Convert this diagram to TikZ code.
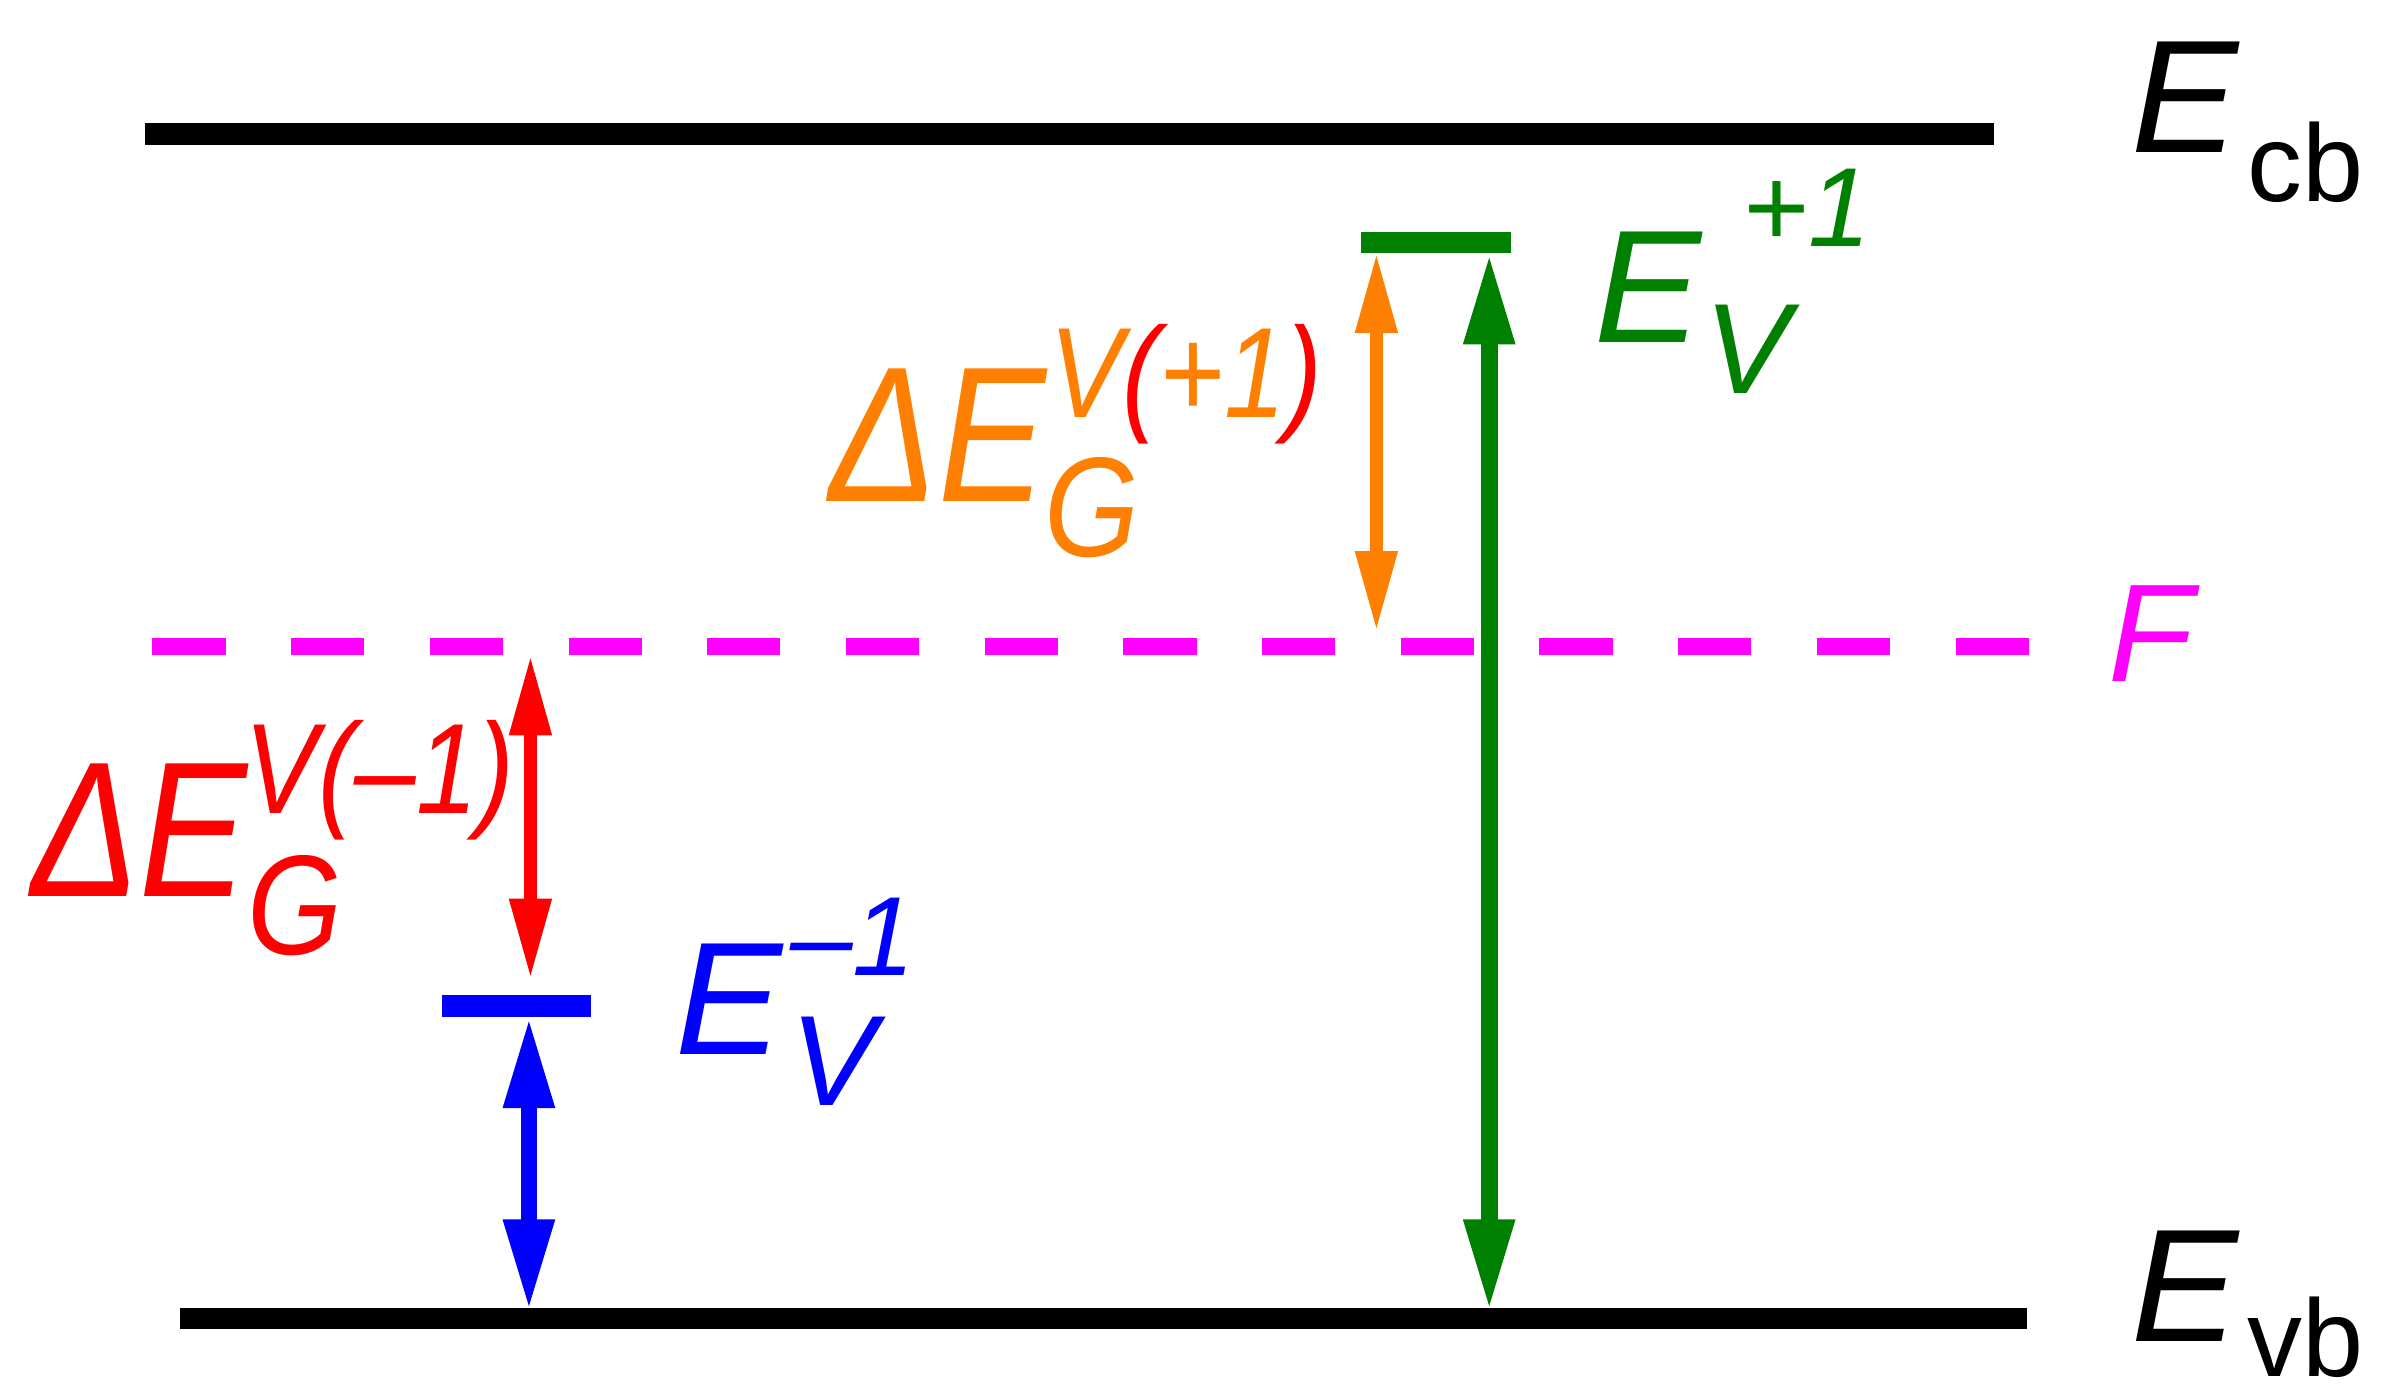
\documentclass[tikz,border=0pt]{standalone}
\usepackage{fontspec}
\setmainfont{Liberation Sans}
\newfontfamily\narrowf[FakeStretch=0.84]{Liberation Sans}
\newfontfamily\narrows[FakeStretch=0.86]{Liberation Sans}
\usetikzlibrary{arrows.meta}
\definecolor{gr}{RGB}{0,128,0}
\definecolor{og}{RGB}{255,128,0}
\definecolor{mg}{RGB}{255,0,255}
\newcommand{\fs}[1]{\fontsize{#1}{#1}\selectfont}
\begin{document}
\begin{tikzpicture}[x=0.02cm,y=-0.02cm,
  lbl/.style={anchor=base west,inner sep=0pt,font=\itshape},
  level/.style={line width=14*0.02cm},
  big/.style={line width=11*0.02cm,{Triangle[length=1.2cm,width=0.62cm]}-{Triangle[length=1.2cm,width=0.62cm]}},
  thin/.style={line width=8*0.02cm,{Triangle[length=1.05cm,width=0.52cm]}-{Triangle[length=1.05cm,width=0.52cm]}}]
\useasboundingbox (0,0) rectangle (1568,918);
% levels
\coordinate (cbL) at (95,88); \coordinate (cbR) at (1308,88);
\coordinate (vbL) at (118,865); \coordinate (vbR) at (1330,865);
\coordinate (fL) at (100,424); \coordinate (fR) at (1335,424);
\draw[level] (cbL) -- (cbR);
\draw[level] (vbL) -- (vbR);
\draw[mg,line width=11*0.02cm,dash pattern=on 48*0.02cm off 43*0.02cm] (fL) -- (fR);
% green level
\coordinate (gL) at (893,159); \coordinate (gR) at (991,159);
\draw[gr,level] (gL) -- (gR);
\coordinate (gA) at (977,166); \coordinate (gB) at (977,860);
\draw[gr,big] (gA) -- (gB);
% orange
\coordinate (oA) at (903,166); \coordinate (oB) at (903,414);
\draw[og,thin] (oA) -- (oB);
% blue level
\coordinate (bL) at (290,660); \coordinate (bR) at (388,660);
\draw[blue,level] (bL) -- (bR);
\coordinate (bA) at (347,667); \coordinate (bB) at (347,860);
\draw[blue,big] (bA) -- (bB);
% red
\coordinate (rA) at (348,430); \coordinate (rB) at (348,642);
\draw[red,thin] (rA) -- (rB);
% labels
\node[lbl,font=\itshape\fs{60pt}] (ecb) at (1398,100) {E};
\node[lbl,font=\fs{41pt}] (cb) at (1474,132) {cb};
\node[lbl,font=\itshape\fs{60pt}] (evb) at (1398,880) {E};
\node[lbl,font=\fs{41pt}] (vb) at (1474,903) {vb};
\node[lbl,mg,font=\itshape\fs{52pt}] (F) at (1383,447) {F};
% green label
\node[lbl,gr,font=\itshape\fs{42pt}] (gE0) at (1046,225) {};
\node[lbl,gr,font=\itshape\fs{60pt}] (gE) at (1046,225) {E};
\node[lbl,gr,font=\itshape\fs{42pt}] (gs) at (1143,162) {+1};
\node[lbl,gr,font=\itshape\fs{48pt}] (gV) at (1118,258) {V};
% blue label
\node[lbl,blue,font=\itshape\fs{60pt}] (bE) at (443,692) {E};
\node[lbl,blue,font=\itshape\fs{42pt}] (bs) at (518,640) {–1};
\node[lbl,blue,font=\itshape\fs{48pt}] (bV) at (518,725) {V};
% orange label
\node[lbl,og,font=\narrowf\itshape\fs{72pt}] (oD) at (544,329) {ΔE};
\node[lbl,og,font=\narrows\itshape\fs{48pt}] (oV) at (688,274) {V\textcolor{red}{(}+1\textcolor{red}{)}};
\node[lbl,og,font=\narrows\itshape\fs{53pt}] (oG) at (685,365) {G};
% red label
\node[lbl,red,font=\narrowf\itshape\fs{72pt}] (rD) at (20,588) {ΔE};
\node[lbl,red,font=\narrows\itshape\fs{48pt}] (rV) at (160,534) {V(–1)};
\node[lbl,red,font=\narrows\itshape\fs{53pt}] (rG) at (162,626) {G};
\end{tikzpicture}
\end{document}
